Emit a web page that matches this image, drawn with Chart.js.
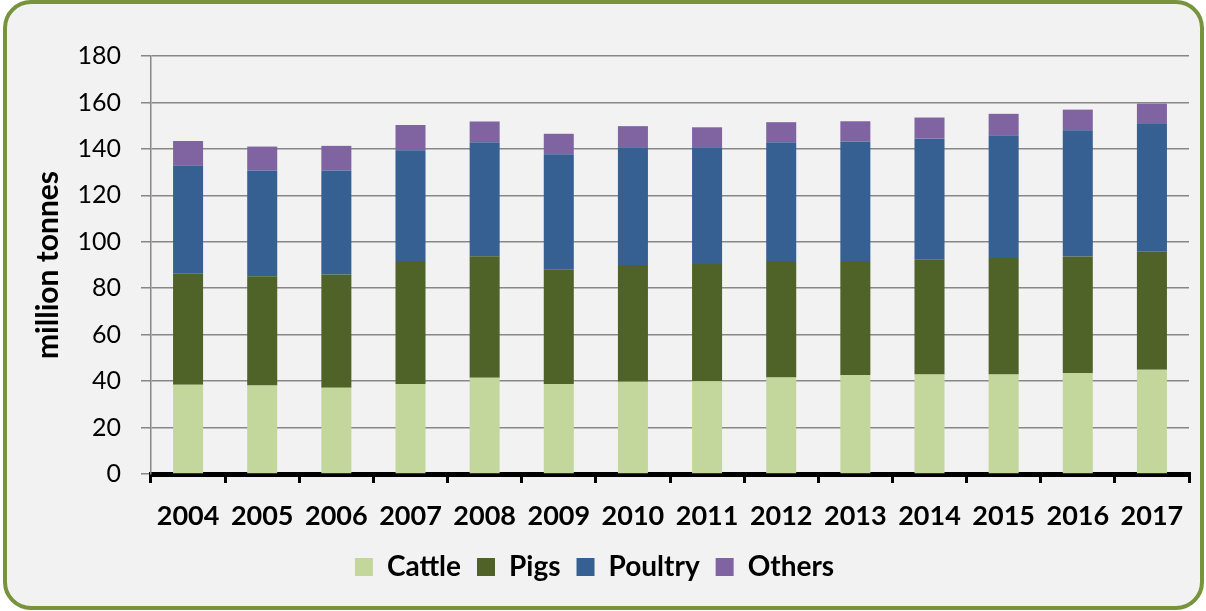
<!DOCTYPE html>
<html>
<head>
<meta charset="utf-8">
<script src="https://cdn.jsdelivr.net/npm/chart.js@4"></script>
<style>
  html, body { margin: 0; padding: 0; background: #fff; }
  #frame {
    position: absolute; left: 3px; top: 0; width: 1201px; height: 610px;
    box-sizing: border-box; border: 4px solid #77933C; border-radius: 28px;
    background: #F2F2F2;
  }
  #wrap { position: absolute; left: 0; top: 0; width: 1206px; height: 611px; }
</style>
</head>
<body>
<div id="frame"></div>
<div id="wrap"><canvas id="meat"></canvas></div>
<script>
const years = ["2004", "2005", "2006", "2007", "2008", "2009", "2010", "2011", "2012", "2013", "2014", "2015", "2016", "2017"];
const cattle  = [38.4, 38.1, 37.1, 38.8, 41.4, 38.8, 39.7, 39.9, 41.6, 42.5, 42.9, 42.8, 43.4, 44.9];
const pigs    = [47.8, 47.1, 48.8, 52.9, 52.4, 49.4, 50.3, 50.5, 50.1, 49.2, 49.6, 50.2, 50.3, 50.8];
const poultry = [46.6, 45.5, 44.8, 47.7, 49.1, 49.5, 50.7, 50.3, 51.2, 51.5, 51.9, 52.9, 54.3, 55.3];
const others  = [10.6, 10.3, 10.6, 10.9,  8.9,  8.8,  9.1,  8.6,  8.6,  8.7,  9.1,  9.2,  8.9,  8.5];

const FONT = "Lato, 'Open Sans', sans-serif";

function bar(label, data, color) {
  return {
    label: label,
    data: data,
    backgroundColor: color,
    borderWidth: 0,
    categoryPercentage: 1,
    barPercentage: 0.405
  };
}

new Chart(document.getElementById("meat"), {
  type: "bar",
  data: {
    labels: years,
    datasets: [
      bar("Cattle", cattle, "#C3D69B"),
      bar("Pigs", pigs, "#4F6228"),
      bar("Poultry", poultry, "#366092"),
      bar("Others", others, "#8064A2")
    ]
  },
  options: {
    responsive: true,
    maintainAspectRatio: false,
    animation: false,
    layout: { padding: { left: 0, right: 17, top: 56, bottom: 20 } },
    plugins: {
      tooltip: { enabled: false },
      legend: {
        position: "bottom",
        labels: {
          color: "#000",
          font: { family: FONT, size: 28, weight: "bold" },
          boxWidth: 18,
          boxHeight: 18,
          padding: 16
        }
      }
    },
    scales: {
      x: {
        stacked: true,
        afterFit: s => { s.height = 63; },
        grid: {
          offset: true,
          drawOnChartArea: false,
          drawTicks: true,
          tickLength: 9,
          color: "#000",
          lineWidth: 3
        },
        border: { display: true, color: "#000", width: 5 },
        ticks: {
          color: "#000",
          padding: 17,
          maxRotation: 0,
          autoSkip: false,
          font: { family: FONT, size: 27, weight: "bold" }
        }
      },
      y: {
        stacked: true,
        min: 0,
        max: 180,
        afterFit: s => { s.width = 151; },
        grid: { color: "#878787", lineWidth: 1.5, tickLength: 10 },
        border: { color: "#878787", width: 1.5 },
        ticks: {
          stepSize: 20,
          color: "#000",
          padding: 20,
          font: { family: FONT, size: 25 }
        },
        title: {
          display: true,
          text: "million tonnes",
          color: "#000",
          padding: { top: 30, bottom: 0 },
          font: { family: FONT, size: 30, weight: "bold" }
        }
      }
    }
  }
});
</script>
</body>
</html>
